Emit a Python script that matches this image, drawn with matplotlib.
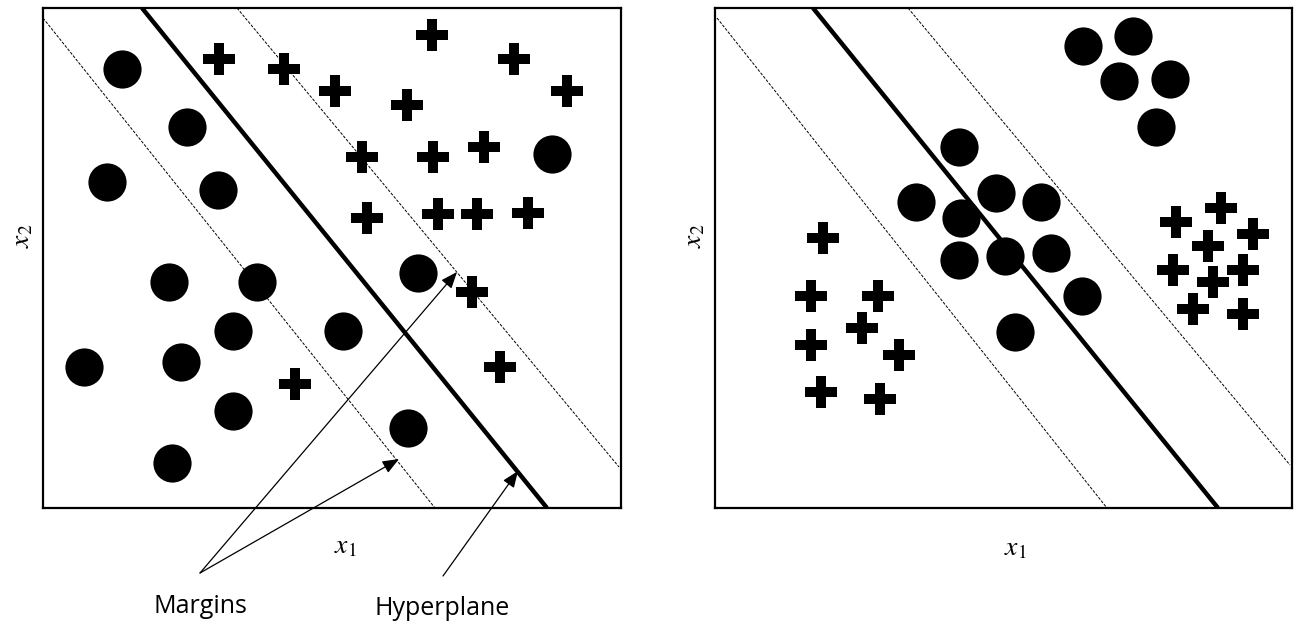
import matplotlib.pyplot as plt

plt.rcParams['mathtext.fontset'] = 'stix'

# --- данные (пиксельные координаты) ---
# левая панель
left_box = (43, 621, 8, 508)          # x0, x1, y_top, y_bottom
left_circles_x = [122, 187, 107, 218, 552, 169, 257, 233, 181, 84, 233, 172, 343, 418, 408]
left_circles_y = [69, 127, 182, 190, 154, 282, 282, 331, 362, 367, 411, 463, 331, 273, 428]
left_plus_x = [219, 284, 335, 432, 514, 567, 407, 362, 433, 484, 367, 438, 477, 528, 295, 472, 500]
left_plus_y = [59, 69, 91, 35, 59, 91, 105, 157, 157, 147, 218, 214, 214, 213, 384, 292, 367]
left_hyper_x = [142, 547]
left_hyper_y = [8, 508]
left_margin1_x = [43, 435]
left_margin1_y = [18, 508]
left_margin2_x = [237, 619]
left_margin2_y = [8, 467]

# правая панель
right_box = (715, 1292, 8, 508)
right_circles_x = [959, 916, 996, 1041, 961, 1005, 959, 1051, 1082, 1015,
                   1083, 1133, 1119, 1170, 1156]
right_circles_y = [147, 202, 193, 202, 218, 256, 260, 253, 296, 332,
                   46, 36, 81, 79, 127]
right_plus_x = [823, 811, 878, 862, 811, 899, 821, 880,
                1176, 1221, 1253, 1208, 1173, 1243, 1213, 1193, 1243]
right_plus_y = [238, 296, 296, 328, 345, 355, 392, 399,
                222, 208, 234, 246, 270, 270, 282, 309, 314]
right_hyper_x = [813, 1218]
right_hyper_y = [8, 508]
right_margin1_x = [717, 1107]
right_margin1_y = [18, 508]
right_margin2_x = [908, 1290]
right_margin2_y = [8, 465]

W, H = 1299, 624
fig = plt.figure(figsize=(W / 100, H / 100), dpi=100)


def make_panel(box, cx, cy, px, py, hx, hy, m1x, m1y, m2x, m2y):
    x0, x1, yt, yb = box
    ax = fig.add_axes([x0 / W, (H - yb) / H, (x1 - x0) / W, (yb - yt) / H])
    ax.set_xlim(x0, x1)
    ax.set_ylim(yb, yt)
    ax.set_xticks([])
    ax.set_yticks([])
    for s in ax.spines.values():
        s.set_linewidth(1.6)
        s.set_color('black')
    # гиперплоскость и границы
    ax.plot(hx, hy, color='black', lw=3.2, solid_capstyle='butt')
    ax.plot(m1x, m1y, color='black', lw=0.7, linestyle=(0, (3, 1.5)))
    ax.plot(m2x, m2y, color='black', lw=0.7, linestyle=(0, (3, 1.5)))
    # точки
    ax.scatter(cx, cy, s=27.5 ** 2, marker='o', color='black', linewidths=0, zorder=3)
    ax.scatter(px, py, s=22.5 ** 2, marker='P', color='black', linewidths=0, zorder=3)
    return ax


ax1 = make_panel(left_box, left_circles_x, left_circles_y, left_plus_x, left_plus_y,
                 left_hyper_x, left_hyper_y, left_margin1_x, left_margin1_y,
                 left_margin2_x, left_margin2_y)
ax2 = make_panel(right_box, right_circles_x, right_circles_y, right_plus_x, right_plus_y,
                 right_hyper_x, right_hyper_y, right_margin1_x, right_margin1_y,
                 right_margin2_x, right_margin2_y)

# подписи осей
fig.text(345 / W, 1 - 545 / H, r'$x_1$', fontsize=20, ha='center', va='center')
fig.text(1015 / W, 1 - 547 / H, r'$x_1$', fontsize=20, ha='center', va='center')
fig.text(21 / W, 1 - 236 / H, r'$x_2$', fontsize=20, ha='center', va='center', rotation=90)
fig.text(693 / W, 1 - 236 / H, r'$x_2$', fontsize=20, ha='center', va='center', rotation=90)

# стрелки и подписи
arrow = dict(arrowstyle='-|>,head_length=0.5,head_width=0.2', color='black',
             lw=0.9, shrinkA=0, shrinkB=0, mutation_scale=20)
ax1.annotate('', xy=(457, 272), xytext=(200, 573), arrowprops=arrow, annotation_clip=False)
ax1.annotate('', xy=(399, 459), xytext=(200, 573), arrowprops=arrow, annotation_clip=False)
ax1.annotate('', xy=(518, 471), xytext=(443, 576), arrowprops=arrow, annotation_clip=False)
ax1.text(200, 613, 'Margins', fontsize=18, family=['Open Sans', 'DejaVu Sans'],
         ha='center', va='baseline', clip_on=False)
ax1.text(442, 615, 'Hyperplane', fontsize=18, family=['Open Sans', 'DejaVu Sans'],
         ha='center', va='baseline', clip_on=False)

plt.savefig('out.png', dpi=100)
